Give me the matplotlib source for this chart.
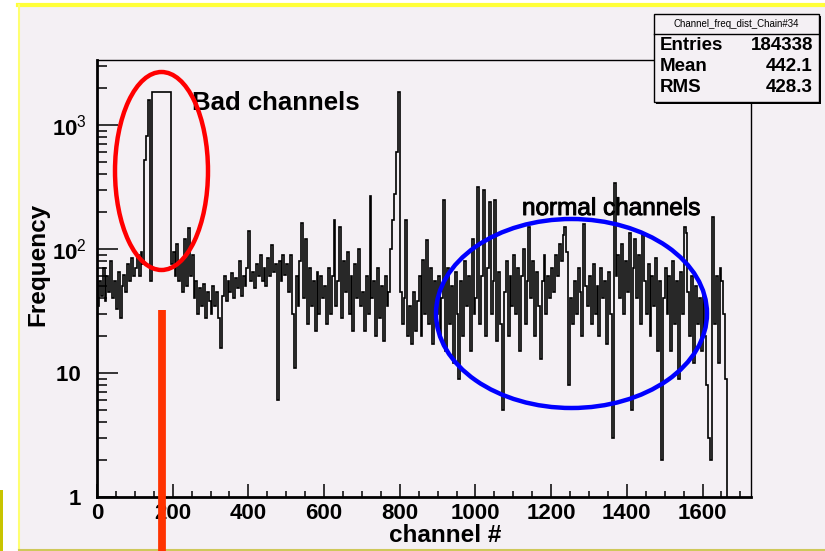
import numpy as np
import matplotlib
matplotlib.use("Agg")
import matplotlib.pyplot as plt
import matplotlib.patheffects as pe
from matplotlib.patches import Ellipse, Rectangle
from matplotlib.lines import Line2D
from matplotlib.ticker import FixedLocator, MultipleLocator, LogLocator, NullFormatter, FixedFormatter

plt.rcParams['font.family'] = ['Liberation Sans', 'DejaVu Sans']
plt.rcParams['mathtext.fontset'] = 'custom'
plt.rcParams['mathtext.rm'] = 'Liberation Sans'
plt.rcParams['mathtext.bf'] = 'Liberation Sans:bold'

# histogram, 5 channels per bin, one row = 100 channels
bin_width = 5
x_max = 1728
counts = [
    35, 55, 42, 70, 38, 60, 45, 80, 40, 55, 33, 65, 28, 50, 62, 45, 75, 55, 85, 60,
    70, 90, 60, 95, 75, 520, 820, 1600, 55, 1850, 1850, 1830, 1850, 1850, 1850, 1840, 1850, 1850, 1850, 75,
    95, 60, 110, 55, 80, 45, 120, 50, 148, 60, 90, 40, 55, 30, 48, 35, 52, 28, 45, 38,
    30, 50, 35, 45, 28, 16, 42, 60, 38, 55, 45, 64, 40, 58, 48, 80, 42, 60, 50, 70,
    140, 55, 65, 48, 75, 60, 90, 55, 70, 50, 85, 60, 107, 65, 75, 6, 80, 55, 90, 62,
    75, 45, 90, 30, 11, 60, 35, 80, 162, 40, 120, 25, 70, 35, 55, 22, 65, 30, 60, 40,
    50, 25, 70, 30, 60, 170, 35, 55, 150, 28, 80, 45, 95, 30, 60, 22, 75, 40, 100, 35,
    45, 22, 60, 30, 265, 40, 55, 20, 70, 28, 50, 18, 60, 35, 45, 100, 170, 280, 600, 1850,
    45, 25, 40, 170, 20, 35, 17, 45, 22, 38, 60, 20, 81, 30, 118, 25, 70, 17, 55, 30,
    60, 20, 40, 250, 15, 70, 25, 50, 12, 65, 30, 9, 55, 20, 80, 35, 60, 15, 120, 30,
    40, 315, 25, 60, 300, 20, 70, 240, 30, 55, 250, 18, 65, 25, 5, 45, 80, 20, 60, 35,
    90, 30, 70, 15, 60, 100, 25, 55, 150, 40, 80, 20, 65, 35, 13, 55, 90, 30, 60, 40,
    70, 45, 90, 60, 110, 80, 130, 150, 95, 8, 40, 25, 55, 30, 70, 45, 20, 160, 50, 35,
    60, 25, 75, 30, 50, 20, 70, 40, 55, 17, 65, 30, 3, 340, 60, 90, 40, 110, 30, 80,
    45, 135, 5, 70, 120, 40, 90, 25, 130, 55, 30, 75, 20, 60, 35, 85, 15, 55, 2, 40,
    70, 30, 60, 15, 80, 25, 55, 9, 65, 30, 150, 135, 45, 20, 60, 12, 50, 25, 40, 15,
    45, 20, 8, 3, 2, 180, 25, 60, 12, 70, 55, 30, 9,
]

x_ticks = [0, 200, 400, 600, 800, 1000, 1200, 1400, 1600]
y_ticks = [1, 10, 100, 1000]
y_tick_labels = ['1 ', '10 ', r'$\mathbf{10}^{2}$', r'$\mathbf{10}^{3}$']

stats_title = 'Channel_freq_dist_Chain#34'
stats_names = ['Entries', 'Mean', 'RMS']
stats_values = ['184338', '442.1', '428.3']

W, H = 825, 551
bg = '#f4f0f4'


def fx(x):
    return x / W


def fy(y):
    return 1 - y / H


fig = plt.figure(figsize=(W / 100, H / 100), dpi=100)
fig.patch.set_facecolor('white')

# canvas frame
fig.add_artist(Rectangle((fx(19), fy(549)), fx(806), 544 / H, transform=fig.transFigure,
                         facecolor=bg, edgecolor='none', zorder=-2))
fig.add_artist(Line2D([fx(18), 1], [fy(5), fy(5)], transform=fig.transFigure, color='#ffff38', lw=3, zorder=-1))
fig.add_artist(Line2D([fx(19), fx(19)], [fy(5), fy(549)], transform=fig.transFigure, color='#ffff70', lw=1.5, zorder=-1))
fig.add_artist(Line2D([fx(19), 1], [fy(549.5), fy(549.5)], transform=fig.transFigure, color='#cfc85a', lw=1.5, zorder=-1))
fig.add_artist(Rectangle((0, 0), fx(2.5), 61 / H, transform=fig.transFigure,
                         facecolor='#c8c400', edgecolor='none', zorder=-1))

ax = fig.add_axes([fx(97), fy(497), (751 - 97) / W, (497 - 60) / H])
ax.patch.set_alpha(0)

edges = np.append(np.arange(0, len(counts) * bin_width + 1, bin_width), x_max)
vals = np.append(np.array(counts, dtype=float), 0.0)
ax.stairs(vals, edges, baseline=None, color='black', lw=1.2)

ax.set_yscale('log', nonpositive='clip')
ax.set_xlim(0, x_max)
ax.set_ylim(1, 3340)

ax.xaxis.set_major_locator(FixedLocator(x_ticks))
ax.xaxis.set_minor_locator(MultipleLocator(50))
ax.yaxis.set_major_locator(FixedLocator(y_ticks))
ax.yaxis.set_major_formatter(FixedFormatter(y_tick_labels))
ax.yaxis.set_minor_locator(LogLocator(base=10, subs=np.arange(2, 10)))
ax.yaxis.set_minor_formatter(NullFormatter())

ax.tick_params(axis='x', which='major', direction='in', length=9.5, width=1.1, pad=4,
               labelsize=16, top=False)
ax.tick_params(axis='x', which='minor', direction='in', length=4.5, width=1.1, top=False)
ax.tick_params(axis='y', which='major', direction='in', length=15, width=1.1, pad=7,
               labelsize=16, right=False)
ax.tick_params(axis='y', which='minor', direction='in', length=7.5, width=1.1, right=False)
for lab in ax.get_xticklabels() + ax.get_yticklabels():
    lab.set_fontweight('bold')

ax.spines['left'].set_linewidth(2.0)
ax.spines['bottom'].set_linewidth(2.0)
ax.spines['top'].set_linewidth(1.0)
ax.spines['right'].set_linewidth(1.0)

fig.text(fx(445), fy(535), 'channel #', ha='center', va='center', fontsize=17.5, fontweight='bold')
fig.text(fx(38), fy(264), 'Frequency', ha='center', va='center', rotation=90, fontsize=17.5, fontweight='bold')

# annotations
fig.text(fx(192), fy(110), 'Bad channels', ha='left', va='baseline', fontsize=18.5, fontweight='bold')
fig.text(fx(522), fy(215), 'normal channels', ha='left', va='baseline', fontsize=17.5,
         path_effects=[pe.withStroke(linewidth=0.7, foreground='black')])
fig.add_artist(Ellipse((fx(161.5), fy(171)), 93 / W, 198 / H, transform=fig.transFigure,
                       fill=False, edgecolor='#ff0000', lw=3.2, zorder=4))
fig.add_artist(Ellipse((fx(571.5), fy(313.5)), 271 / W, 189 / H, transform=fig.transFigure,
                       fill=False, edgecolor='#0000ff', lw=3.2, zorder=4))
fig.add_artist(Line2D([fx(162), fx(162)], [fy(310), 0], transform=fig.transFigure,
                      color='#ff3300', lw=5.6, solid_capstyle='butt', zorder=4))

# stats box
fig.add_artist(Rectangle((fx(656), fy(104)), 165 / W, 88 / H, transform=fig.transFigure,
                         facecolor='black', edgecolor='none', zorder=5))
fig.add_artist(Rectangle((fx(654), fy(102)), 165 / W, 88 / H, transform=fig.transFigure,
                         facecolor=bg, edgecolor='black', lw=1.0, zorder=6))
fig.add_artist(Line2D([fx(654), fx(819)], [fy(34), fy(34)], transform=fig.transFigure,
                      color='black', lw=1.0, zorder=7))
fig.text(fx(736), fy(24), stats_title, ha='center', va='center', fontsize=7, zorder=8)
for i, (name, val) in enumerate(zip(stats_names, stats_values)):
    yb = fy(50 + 21 * i)
    fig.text(fx(660), yb, name, ha='left', va='baseline', fontsize=13.5, fontweight='bold', zorder=8)
    fig.text(fx(813), yb, val, ha='right', va='baseline', fontsize=13.5, fontweight='bold', zorder=8)

fig.savefig('out.png', dpi=100, facecolor='white')
